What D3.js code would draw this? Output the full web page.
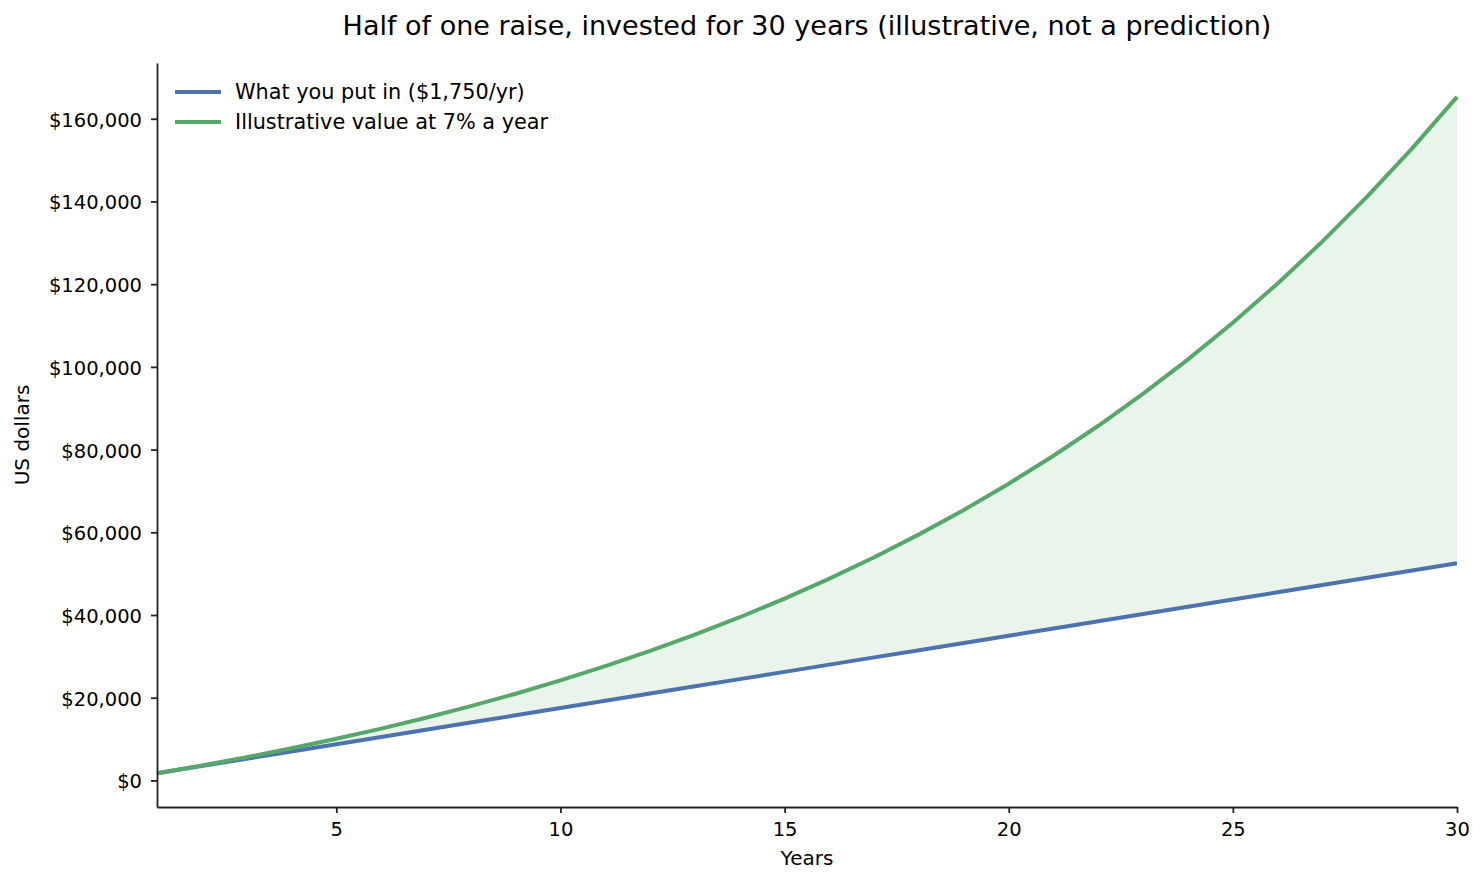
<!DOCTYPE html>
<html>
<head>
<meta charset="utf-8">
<script src="https://cdn.jsdelivr.net/npm/d3@7"></script>
<style>
  body { margin: 0; background: #fff; }
  text { font-family: "DejaVu Sans", sans-serif; }
</style>
</head>
<body>
<div id="chart"></div>
<script>
const years = d3.range(1, 31);
const putIn = [1750, 3500, 5250, 7000, 8750, 10500, 12250, 14000, 15750, 17500,
  19250, 21000, 22750, 24500, 26250, 28000, 29750, 31500, 33250, 35000,
  36750, 38500, 40250, 42000, 43750, 45500, 47250, 49000, 50750, 52500];
const valueAt7 = [1750, 3623, 5626, 7770, 10064, 12518, 15145, 17955, 20961, 24179,
  27621, 31305, 35246, 39463, 43976, 48804, 53970, 59498, 65413, 71742,
  78514, 85760, 93513, 101809, 110686, 120184, 130347, 141221, 152856, 165306];
const xTicks = [5, 10, 15, 20, 25, 30];
const yTicks = [0, 20000, 40000, 60000, 80000, 100000, 120000, 140000, 160000];
const seriesNames = ["What you put in ($1,750/yr)", "Illustrative value at 7% a year"];

const width = 1484, height = 885;
const margin = { top: 63, right: 27, bottom: 78, left: 157 };
const blue = "#4c72b0", green = "#55a868";

const svg = d3.select("#chart").append("svg")
  .attr("width", width).attr("height", height);

const x = d3.scaleLinear().domain([1, 30]).range([margin.left, width - margin.right]);
const y = d3.scaleLinear().domain([-6428, 173484]).range([height - margin.bottom, margin.top]);

const rows = years.map((yr, i) => ({ yr, a: putIn[i], b: valueAt7[i] }));

// shaded gap
svg.append("path")
  .datum(rows)
  .attr("fill", green).attr("fill-opacity", 0.13)
  .attr("d", d3.area().x(d => x(d.yr)).y0(d => y(d.a)).y1(d => y(d.b)));

const line = key => d3.line().x(d => x(d.yr)).y(d => y(d[key]));
svg.append("path").datum(rows).attr("fill", "none").attr("stroke", blue)
  .attr("stroke-width", 4).attr("d", line("a"));
svg.append("path").datum(rows).attr("fill", "none").attr("stroke", green)
  .attr("stroke-width", 4).attr("d", line("b"));

// axes (inner ticks only)
const xAxis = svg.append("g")
  .attr("transform", `translate(0,${height - margin.bottom})`)
  .call(d3.axisBottom(x).tickValues(xTicks).tickSizeInner(6).tickSizeOuter(0).tickPadding(9));
const yAxis = svg.append("g")
  .attr("transform", `translate(${margin.left},0)`)
  .call(d3.axisLeft(y).tickValues(yTicks).tickSizeInner(6).tickSizeOuter(0).tickPadding(9)
    .tickFormat(d => "$" + d3.format(",")(d)));
[xAxis, yAxis].forEach(g => {
  g.selectAll("text").attr("font-size", 19.5).attr("fill", "#000")
    .attr("font-family", "DejaVu Sans");
  g.selectAll("line").attr("stroke", "#222").attr("stroke-width", 1.8);
  g.select(".domain").attr("stroke", "#222").attr("stroke-width", 1.8);
});
yAxis.selectAll("text").attr("dy", "0.38em");

// titles
svg.append("text").attr("x", 807).attr("y", 35).attr("text-anchor", "middle")
  .attr("font-size", 27).text("Half of one raise, invested for 30 years (illustrative, not a prediction)");
svg.append("text").attr("x", 807).attr("y", 865).attr("text-anchor", "middle")
  .attr("font-size", 20).text("Years");
svg.append("text").attr("transform", "translate(29,435) rotate(-90)")
  .attr("text-anchor", "middle").attr("font-size", 20).text("US dollars");

// legend
const legend = svg.append("g");
[blue, green].forEach((c, i) => {
  const ly = 92 + i * 30;
  legend.append("line").attr("x1", 175).attr("x2", 221).attr("y1", ly).attr("y2", ly)
    .attr("stroke", c).attr("stroke-width", 4);
  legend.append("text").attr("x", 235).attr("y", ly + 7).attr("font-size", 20.8)
    .text(seriesNames[i]);
});
</script>
</body>
</html>
